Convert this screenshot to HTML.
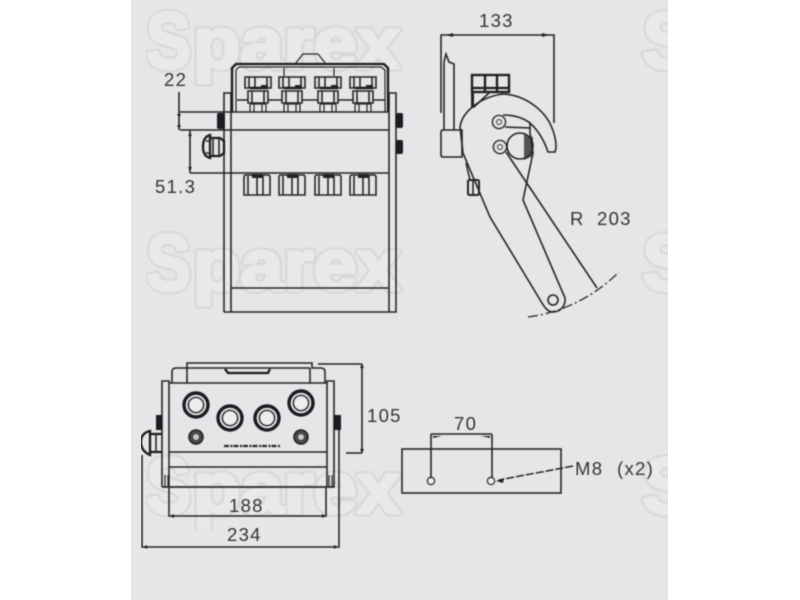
<!DOCTYPE html>
<html><head><meta charset="utf-8"><style>
html,body{margin:0;padding:0;background:#fff}
svg{display:block}
.l{fill:none;stroke:#262628;stroke-width:1.6}
.t{fill:none;stroke:#262628;stroke-width:1.2}
.k{fill:none;stroke:#1a1a1c;stroke-width:2.3}
.tx{font-family:"Liberation Sans",sans-serif;font-size:18.5px;fill:#343436;letter-spacing:1.3px}
.w{font-family:"Liberation Sans",sans-serif;font-weight:bold}
</style></head><body>
<svg width="800" height="600" viewBox="0 0 800 600" xmlns="http://www.w3.org/2000/svg">
<defs>
<filter id="b" x="0" y="0" width="100%" height="100%"><feGaussianBlur stdDeviation="0.55"/></filter>
<filter id="b2" x="0" y="0" width="100%" height="100%"><feGaussianBlur stdDeviation="0.9"/></filter>
<g id="ft">
 <path class="l" d="M-13 1V12H13V1ZM-9 1V12M9 1V12M-3 1V12"/>
 <path d="M-8 12H10" stroke="#1c1c1e" stroke-width="2.4"/>
 <path class="l" d="M-10 15H10V27H-10ZM-6 15V27M6 15V27"/>
 <path class="t" d="M-8 28V36M8 28V36M-4 28V36M4 28V36M-8 28H8"/>
 <rect x="3" y="9" width="7" height="4" fill="#222"/>
</g>
<g id="fb">
 <path class="l" d="M-13 2Q-13 0-11 0H11Q13 0 13 2V20H-13Z"/>
 <path class="l" d="M-9 1V20M0 1V20M6 1V20"/>
 <rect x="-5" y="-1" width="11" height="4" fill="#222"/>
</g>
<g id="port">
 <circle r="12" fill="none" stroke="#1e1e20" stroke-width="3.4"/>
 <circle r="7.5" fill="#eceded" stroke="#1e1e20" stroke-width="1.6"/>
</g>
<g id="sm">
 <circle r="7" fill="#4a4a4c" stroke="#1e1e20" stroke-width="1.5"/>
 <circle r="2.8" fill="#c9cacc"/>
</g>
<g id="wm" class="w">
 <text x="146" y="68" font-size="80" textLength="45" lengthAdjust="spacingAndGlyphs">S</text>
 <text x="193" y="68" font-size="72" textLength="207" lengthAdjust="spacingAndGlyphs">parex</text>
 <text x="146" y="290" font-size="80" textLength="45" lengthAdjust="spacingAndGlyphs">S</text>
 <text x="193" y="290" font-size="72" textLength="207" lengthAdjust="spacingAndGlyphs">parex</text>
 <text x="146" y="513" font-size="80" textLength="45" lengthAdjust="spacingAndGlyphs">S</text>
 <text x="193" y="513" font-size="72" textLength="207" lengthAdjust="spacingAndGlyphs">parex</text>
 <text x="642" y="68" font-size="80">S</text>
 <text x="642" y="290" font-size="80">S</text>
 <text x="642" y="513" font-size="80">S</text>
</g>
</defs>
<rect width="800" height="600" fill="#fff"/>
<rect x="131" y="0" width="537" height="600" fill="#e5e6e8"/>

<g filter="url(#b2)">
<use href="#wm" fill="#d5d6d8" stroke="#d5d6d8" stroke-width="7" stroke-linejoin="round"/>
<use href="#wm" fill="#e8e9ea" stroke="#e8e9ea" stroke-width="3" stroke-linejoin="round"/>
</g>
<rect x="668" y="0" width="132" height="600" fill="#fff"/>

<g filter="url(#b)">
<!-- top view -->
<path class="l" d="M224 312V93H231V312M224 312H396V93H389V312M231 288H389"/>
<path class="k" d="M232 112V68L236 64H384L388 68V112"/>
<path class="t" d="M236 112V70L239 67H381L385 70V112"/>
<path class="t" d="M295 64L303 54H318L326 64"/>
<use href="#ft" x="258" y="76"/><use href="#ft" x="292" y="76"/><use href="#ft" x="328" y="76"/><use href="#ft" x="363" y="76"/>
<path class="l" d="M237 100H248M268 100H282M302 100H318M338 100H353M373 100H385"/>
<path class="t" d="M284 68V76M334 68V76"/>
<path class="l" d="M180 112H389M180 130H389M190 173H389"/>
<rect x="217" y="113" width="8" height="16" rx="2" fill="#1e1e20"/>
<rect x="396" y="113" width="7" height="15" rx="2" fill="#1e1e20"/>
<rect x="396" y="140" width="7" height="14" rx="2" fill="#1e1e20"/>
<path class="l" d="M179 92V130M190 130V173"/>
<path d="M177 114L179 118L181 114ZM177 127L179 123L181 127ZM188 136L190 132L192 136ZM188 167L190 171L192 167Z" fill="#222"/>
<path class="k" d="M210 135Q203 137 203 147Q203 156 210 158Z"/>
<path class="k" d="M210 138H220L224 141V153L220 156H210"/>
<path class="l" d="M206 141H210V153H206M213 138V156M219 138V156"/>
<use href="#fb" x="257" y="175"/><use href="#fb" x="292" y="175"/><use href="#fb" x="328" y="175"/><use href="#fb" x="363" y="175"/>
<text class="tx" x="164" y="86">22</text>
<text class="tx" x="155" y="193">51.3</text>

<!-- side view -->
<path class="l" d="M441 113V35H554V123"/>
<path d="M446 35L453 33V37ZM549 35L542 33V37Z" fill="#222"/>
<text class="tx" x="479" y="27">133</text>
<path class="l" d="M444 130V62L446 54L449 62L454 64V130"/>
<path class="l" d="M441 132Q441 130 443 130H462V157H443Q441 157 441 155Z"/>
<rect x="472" y="75" width="37" height="17" fill="none" stroke="#222" stroke-width="2.4"/>
<path class="k" d="M485 75V92M497 75V92"/>
<path class="k" d="M472 88H509"/>
<rect x="471" y="92" width="3" height="16" fill="#222"/>
<path class="l" d="M474 107L490 92"/>
<rect x="468" y="180" width="11" height="15" rx="1.5" fill="none" stroke="#222" stroke-width="2"/>
<path class="l" d="M473 180V195M466 163L470 180"/>
<path fill="#e5e6e8" class="l" d="M460 127C462 112 480 97 503 94C525 95 545 110 552 128C556 138 557 147 555 152H548C545 143 540 132 530 123V133L533 153L523 200L565 298C566 306 560 312 553 312C548 312 545 308 542 303L490 217L463 153Z"/>
<path class="l" d="M530 123C522 117 513 115 503 115"/>
<path class="l" d="M505 127L530 128"/>
<circle cx="499" cy="122" r="6.5" fill="#e5e6e8" stroke="#262628" stroke-width="1.6"/>
<circle cx="499" cy="122" r="2.5" class="t"/>
<circle cx="500" cy="147" r="6.5" fill="#e5e6e8" stroke="#262628" stroke-width="1.6"/>
<circle cx="500" cy="147" r="2.5" class="t"/>
<circle cx="520" cy="146" r="13" class="l"/>
<path d="M524 134l9 3v19l-9 4z" fill="#2e2e30" opacity=".8"/>
<path class="l" d="M506 152L597 288"/>
<circle cx="553" cy="300" r="5" class="l"/>
<path fill="none" stroke="#262628" stroke-width="1.3" stroke-dasharray="10 3 2 3" d="M528 317Q580 310 619 272"/>
<text class="tx" x="570" y="225">R</text><text class="tx" x="597" y="225">203</text>

<!-- front view -->
<path class="l" d="M172 383V372Q172 368 176 368H187V363H312V368H321Q325 368 325 372V383"/>
<path class="l" d="M187 368V383M310 368V383M187 368H310"/>
<path class="k" d="M225 369L228 373H268L270 369"/>
<path class="l" d="M162 487V381H169V487M162 487H334V381H327V487"/>
<path class="l" d="M169 383H327M169 452H327M169 467H327M162 487H334"/>
<path class="t" d="M165 475V487M168 475V487M329 475V487M332 475V487"/>
<rect x="156" y="415" width="6" height="15" fill="#1e1e20"/>
<rect x="334" y="415" width="7" height="15" fill="#1e1e20"/>
<use href="#port" x="196" y="405"/><use href="#port" x="230" y="418"/><use href="#port" x="267" y="418"/><use href="#port" x="301" y="403"/>
<use href="#sm" x="196" y="437"/><use href="#sm" x="301" y="437"/>
<path d="M224 446H280" stroke="#2a2a2c" stroke-width="2.2" stroke-dasharray="5 1.5 2 1"/>
<path class="k" d="M150 431Q141 433 141 442Q141 451 150 455Z"/>
<path class="k" d="M150 434H162M150 452H162"/>
<path class="l" d="M156 434V452"/>
<path class="l" d="M318 364H362M346 453H362M362 364V453"/>
<path d="M360 368L362 364L364 368ZM360 449L362 453L364 449Z" fill="#222"/>
<text class="tx" x="367" y="422">105</text>
<path class="l" d="M169 488V516H326V488"/>
<path d="M174 514L170 516L174 518ZM322 514L326 516L322 518Z" fill="#222"/>
<text class="tx" x="229" y="512">188</text>
<path class="l" d="M142 455V547H339V430"/>
<path d="M147 545L143 547L147 549ZM334 545L338 547L334 549Z" fill="#222"/>
<text class="tx" x="227" y="541">234</text>

<!-- mounting plate -->
<rect x="402" y="449" width="159" height="44" fill="none" stroke="#262628" stroke-width="1.6"/>
<path class="l" d="M431 434H492M431 434V477M492 434V477"/>
<path d="M433 436L442 436L433 438ZM490 436L481 436L490 438Z" fill="#222"/>
<circle cx="431" cy="481" r="3.5" fill="#eee" stroke="#262628" stroke-width="1.4"/>
<circle cx="491" cy="481" r="3.5" fill="#eee" stroke="#262628" stroke-width="1.4"/>
<path fill="none" stroke="#262628" stroke-width="1.5" stroke-dasharray="8 2" d="M573 466L499 480"/>
<path d="M496 481L504 478L503 483Z" fill="#222"/>
<text class="tx" x="454" y="430">70</text>
<text class="tx" x="575" y="475">M8</text>
<text class="tx" x="617" y="475">(x2)</text>
</g>
</svg>
</body></html>
